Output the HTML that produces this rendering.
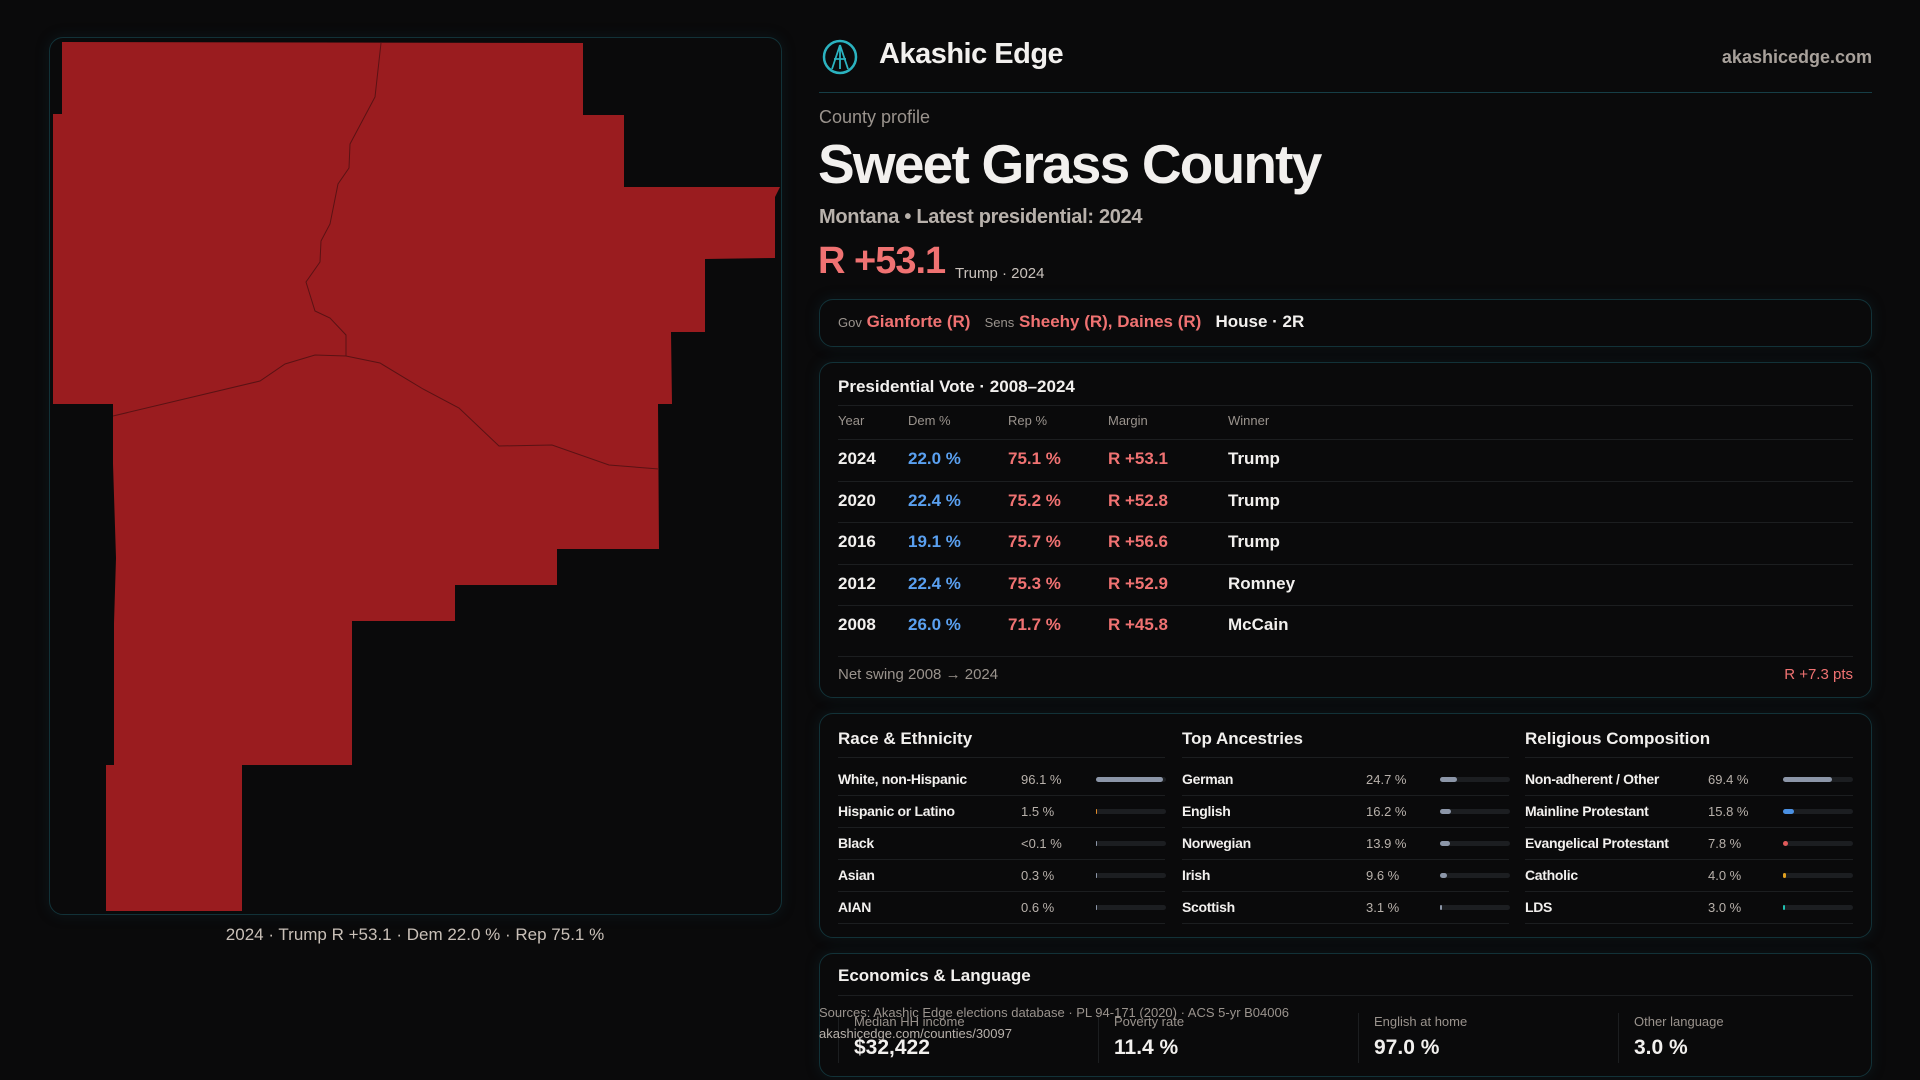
<!DOCTYPE html>
<html><head><meta charset="utf-8">
<style>
*{box-sizing:border-box;margin:0;padding:0}
body{width:1920px;height:1080px;background:#0a0a0b;font-family:"Liberation Sans",sans-serif;color:#f2f0ee;position:relative;overflow:hidden}
.a{position:absolute;white-space:nowrap}
.panel{position:absolute;border:1px solid #123238;border-radius:14px;background:#0a0a0b;box-shadow:0 0 14px rgba(20,60,70,.25)}
.muted{color:#9a938d}
.red{color:#f07272}
.blue{color:#5aa0f0}
.hl{position:absolute;height:1px;background:#1c1e20}
</style></head><body>
<div class="panel" style="left:49px;top:37px;width:733px;height:878px;"></div>
<svg class="a" style="left:0;top:0" width="800" height="960">
<polygon fill="#9a1c1f" points="62,42 583,43 583,115 624,115 624,187 780,187 775,197 775,258 705,259 705,332 671,332 672,404 658,404 659,549 557,549 557,585 455,585 455,621 352,621 352,765 242,765 242,911 106,911 106,765 114,765 114,623 116,558 113,464 113,404 53,404 53,114 62,114"/>
<polyline fill="none" stroke="#5a1214" stroke-width="1" points="113,416 260,381 285,364 315,355 346,356 380,363 423,389 459,408 499,446 552,445 609,465 659,469"/>
<polyline fill="none" stroke="#5a1214" stroke-width="1" points="381,43 375,97 350,144 349,168 338,184 330,224 321,241 320,262 306,282 315,311 330,318 346,335 346,356"/>
</svg>
<div class="a" style="left:0;width:830px;text-align:center;top:925px;font-size:17px;color:#c9c0b8">2024 · Trump R +53.1 · Dem 22.0 % · Rep 75.1 %</div>

<svg class="a" style="left:822px;top:39px" width="36" height="36" viewBox="0 0 36 36"><circle cx="18" cy="18" r="16" fill="none" stroke="#2bb3c0" stroke-width="2.5"/><path d="M18 6 L10 30 M18 6 L26 30 M12 20 L24 20 M18 6 L18 30" stroke="#2bb3c0" stroke-width="1.8" fill="none"/></svg>
<div class="a" style="left:879px;top:38px;font-size:29px;font-weight:bold;letter-spacing:-0.5px">Akashic Edge</div>
<div class="a muted" style="right:48px;top:47px;font-size:18px;font-weight:bold;color:#a8a19b">akashicedge.com</div>
<div class="hl" style="left:819px;top:92px;width:1053px;background:#163e46"></div>
<div class="a muted" style="left:819px;top:107px;font-size:18px">County profile</div>
<div class="a" style="left:818px;top:132px;font-size:55px;font-weight:bold;letter-spacing:-1.8px">Sweet Grass County</div>
<div class="a" style="left:819px;top:206px;font-size:20px;color:#b8b1ab;font-weight:bold;letter-spacing:-0.3px">Montana • Latest presidential: 2024</div>
<div class="a red" style="left:818px;top:240px;font-size:38px;font-weight:bold;letter-spacing:-1px">R +53.1</div>
<div class="a" style="left:955px;top:265px;font-size:15px;color:#c9c2bc">Trump · 2024</div>

<div class="panel" style="left:819px;top:299px;width:1053px;height:48px"></div>
<div class="a" style="left:838px;top:312px;font-size:17px;font-weight:bold">
<span class="muted" style="font-size:13px;font-weight:normal">Gov</span> <span class="red">Gianforte (R)</span>&nbsp;&nbsp; <span class="muted" style="font-size:13px;font-weight:normal">Sens</span> <span class="red">Sheehy (R), Daines (R)</span>&nbsp;&nbsp; <span>House · 2R</span></div>

<div class="panel" style="left:819px;top:362px;width:1053px;height:336px"></div>
<div class="a" style="left:838px;top:377px;font-size:17px;font-weight:bold">Presidential Vote · 2008–2024</div>
<div class="hl" style="left:838px;top:405px;width:1015px"></div>
<div id="thead"></div>
<div id="tbody"></div>
<div class="hl" style="left:838px;top:656px;width:1015px"></div>
<div class="a muted" style="left:838px;top:666px;font-size:15px">Net swing 2008 → 2024</div>
<div class="a red" style="right:67px;top:666px;font-size:15px">R +7.3 pts</div>

<div class="panel" style="left:819px;top:713px;width:1053px;height:225px"></div>
<div id="demo"></div>

<div class="panel" style="left:819px;top:953px;width:1053px;height:124px"></div>
<div class="a" style="left:838px;top:966px;font-size:17px;font-weight:bold">Economics &amp; Language</div>
<div class="hl" style="left:838px;top:995px;width:1015px"></div>
<div id="econ"></div>
<div class="a" style="left:819px;top:1005px;font-size:13px;color:#9a938d">Sources: Akashic Edge elections database · PL 94-171 (2020) · ACS 5-yr B04006</div>
<div class="a" style="left:819px;top:1026px;font-size:13px;color:#b8b1ab">akashicedge.com/counties/30097</div>

<script>
const years=["2024","2020","2016","2012","2008"];
const demPct=[22.0,22.4,19.1,22.4,26.0];
const repPct=[75.1,75.2,75.7,75.3,71.7];
const margins=[53.1,52.8,56.6,52.9,45.8];
const winners=["Trump","Trump","Trump","Romney","McCain"];
const headers=["Year","Dem %","Rep %","Margin","Winner"];

const raceLabels=["White, non-Hispanic","Hispanic or Latino","Black","Asian","AIAN"];
const raceValues=["96.1 %","1.5 %","<0.1 %","0.3 %","0.6 %"];
const racePct=[96.1,1.5,0.05,0.3,0.6];
const ancLabels=["German","English","Norwegian","Irish","Scottish"];
const ancValues=["24.7 %","16.2 %","13.9 %","9.6 %","3.1 %"];
const ancPct=[24.7,16.2,13.9,9.6,3.1];
const relLabels=["Non-adherent / Other","Mainline Protestant","Evangelical Protestant","Catholic","LDS"];
const relValues=["69.4 %","15.8 %","7.8 %","4.0 %","3.0 %"];
const relPct=[69.4,15.8,7.8,4.0,3.0];

const econLabels=["Median HH income","Poverty rate","English at home","Other language"];
const econValues=["$32,422","11.4 %","97.0 %","3.0 %"];

const colX=[838,908,1008,1108,1228];
function mk(parent,cls,style,text){const d=document.createElement('div');d.className='a '+(cls||'');d.style.cssText=style;d.textContent=text;parent.appendChild(d);return d;}
const th=document.getElementById('thead');
headers.forEach((h,i)=>{const d=mk(th,'muted','left:'+colX[i]+'px;top:413px;font-size:13px',h);

});
const tb=document.getElementById('tbody');
const rowTop=439,rowH=41.5;
years.forEach((y,i)=>{
 const top=rowTop+i*rowH;
 const ln=mk(tb,'hl','left:838px;width:1015px;top:'+top+'px','');
 
 
 const cy=top+10;
 const m=margins[i];
 const vals=[y,demPct[i].toFixed(1)+' %',repPct[i].toFixed(1)+' %',(m>=0?'R +':'D +')+Math.abs(m).toFixed(1),winners[i]];
 const cls=['','blue','red','red',''];
 vals.forEach((v,j)=>{const d=mk(tb,cls[j],'left:'+colX[j]+'px;top:'+cy+'px;font-size:17px;font-weight:bold',v);
 
 });
});

const demo=document.getElementById('demo');
const groups=[
 {t:"Race & Ethnicity",x:838,w:327,vx:1021,bx:1096,bw:70,labels:raceLabels,values:raceValues,pct:racePct,colors:["#8c96a8","#e08a2a","#8c96a8","#8c96a8","#8c96a8"]},
 {t:"Top Ancestries",x:1182,w:327,vx:1366,bx:1440,bw:70,labels:ancLabels,values:ancValues,pct:ancPct,colors:["#8c96a8","#8c96a8","#8c96a8","#8c96a8","#8c96a8"]},
 {t:"Religious Composition",x:1525,w:328,vx:1708,bx:1783,bw:70,labels:relLabels,values:relValues,pct:relPct,colors:["#8c96a8","#4a90e2","#e05a5a","#e0a020","#20c0b0"]}
];
groups.forEach(g=>{
 const t=mk(demo,'','left:'+g.x+'px;top:729px;font-size:17px;font-weight:bold',g.t);
 
 
 const l0=mk(demo,'hl','left:'+g.x+'px;width:'+g.w+'px;top:757px','');
 
 
 g.labels.forEach((lab,i)=>{
  const top=771+i*32;
  const n=mk(demo,'','left:'+g.x+'px;top:'+top+'px;font-size:14px;font-weight:bold;letter-spacing:-0.3px',lab);
  
  
  const v=mk(demo,'','left:'+g.vx+'px;top:'+(top+1)+'px;font-size:13px;color:#b8b1ab',g.values[i]);
  
  
  const track=mk(demo,'','left:'+g.bx+'px;top:'+(top+6)+'px;width:'+g.bw+'px;height:5px;border-radius:3px;background:#1c1e21','');
  
  
  const bar=mk(demo,'','left:'+g.bx+'px;top:'+(top+6)+'px;width:'+(g.bw*g.pct[i]/100)+'px;min-width:1px;height:5px;border-radius:3px;background:'+g.colors[i],'');
  
  
  const ln=mk(demo,'hl','left:'+g.x+'px;width:'+g.w+'px;top:'+(top+24)+'px','');
  
  
 });
});

const econ=document.getElementById('econ');
econLabels.forEach((lab,i)=>{
 const x=838+i*260;
 const dv=mk(econ,'','left:'+x+'px;top:1013px;width:1px;height:50px;background:#1c1e20','');
 
 
 const l=mk(econ,'muted','left:'+(x+16)+'px;top:1014px;font-size:13px',lab);
 
 
 const v=mk(econ,'','left:'+(x+16)+'px;top:1036px;font-size:21px;font-weight:bold',econValues[i]);
 
 
});
</script>
</body></html>
